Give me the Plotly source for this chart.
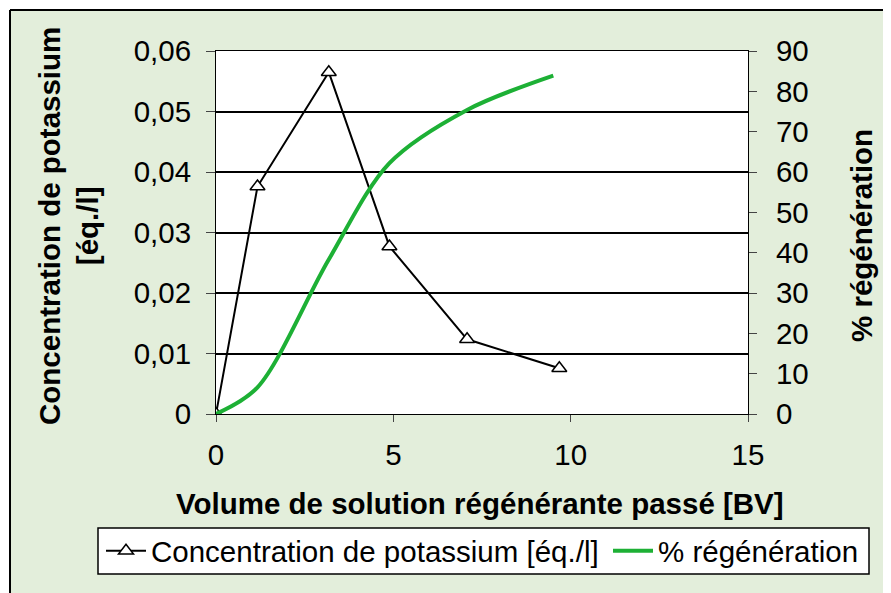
import plotly.graph_objects as go

# Data
vol_conc = [0, 1.17, 3.18, 4.89, 7.08, 9.68]
conc = [0.0, 0.0376, 0.0565, 0.0277, 0.01235, 0.00755]
vol_regen = [0, 1.17, 3.18, 4.89, 7.08, 9.51]
regen = [0, 6.6, 38.3, 62.2, 75.4, 83.9]

x_ticks = [0, 5, 10, 15]
y_ticks = [0, 0.01, 0.02, 0.03, 0.04, 0.05, 0.06]
y2_ticks = [0, 10, 20, 30, 40, 50, 60, 70, 80, 90]

FONT = "Liberation Sans, Arial, sans-serif"
BG = "#e3eedb"
FS = 29.5

OFF = 8  # page body margin
W, H = 891 - OFF, 593 - OFF
# plot area in page pixels (reference coordinates)
L, R, T, B = 216, 748, 51, 414

def px_x(p):
    return (p - L) / (R - L)

def px_y(p):
    return (B - p) / (B - T)

fig = go.Figure()
fig.add_trace(go.Scatter(
    x=vol_conc, y=conc, mode="lines+markers",
    name="Concentration de potassium [éq./l]",
    legend="legend",
    line=dict(color="black", width=2),
    marker=dict(symbol="triangle-up", size=13, color="white",
                line=dict(color="black", width=1.5)),
    yaxis="y"))
fig.add_trace(go.Scatter(
    x=vol_regen, y=regen, mode="lines",
    name="% régénération",
    legend="legend2",
    line=dict(color="#1db035", width=4, shape="spline", smoothing=0.9),
    yaxis="y2"))

tickfont = dict(family=FONT, size=FS, color="black")
legfont = dict(family=FONT, size=FS, color="black")
fig.update_layout(
    width=W, height=H,
    margin=dict(l=L - OFF, r=891 - R, t=T - OFF, b=593 - B, autoexpand=False),
    paper_bgcolor=BG, plot_bgcolor="white",
    separators=", ",
    showlegend=True,
    font=dict(family=FONT, color="black"),
    xaxis=dict(range=[0, 15], tickvals=x_ticks, ticks="outside", ticklen=7,
               tickcolor="#444", showline=True, linecolor="black", linewidth=1,
               mirror=True, showgrid=False, zeroline=False, tickfont=tickfont,
               ticklabelstandoff=8),
    yaxis=dict(range=[0, 0.06], tickvals=y_ticks, ticks="outside", ticklen=9,
               tickcolor="#444", showline=True, linecolor="black", linewidth=1,
               mirror=True, showgrid=True, gridcolor="black", gridwidth=1.5,
               zeroline=False, tickfont=tickfont, ticklabelstandoff=9),
    yaxis2=dict(range=[0, 90], tickvals=y2_ticks, ticks="outside", ticklen=8,
                tickcolor="#444", overlaying="y", side="right", showline=True,
                linecolor="black", linewidth=1, showgrid=False, zeroline=False,
                tickfont=tickfont, ticklabelstandoff=13),
    legend=dict(orientation="h", x=px_x(101), xanchor="left", y=px_y(551),
                yanchor="middle", bgcolor="rgba(0,0,0,0)", borderwidth=0,
                itemwidth=40, font=legfont),
    legend2=dict(orientation="h", x=px_x(608), xanchor="left", y=px_y(551),
                 yanchor="middle", bgcolor="rgba(0,0,0,0)", borderwidth=0,
                 itemwidth=40, font=legfont),
)

# outer frame (white outside, black border line)
fig.add_shape(type="rect", xref="paper", yref="paper", layer="below",
              x0=-1, x1=px_x(9.5), y0=-2, y1=2, fillcolor="white", line_width=0)
fig.add_shape(type="rect", xref="paper", yref="paper", layer="below",
              x0=-1, x1=2, y0=px_y(9.5), y1=2, fillcolor="white", line_width=0)
fig.add_shape(type="line", xref="paper", yref="paper", layer="below",
              x0=px_x(10), x1=px_x(10), y0=-2, y1=px_y(10),
              line=dict(color="black", width=2))
fig.add_shape(type="line", xref="paper", yref="paper", layer="below",
              x0=px_x(10), x1=2, y0=px_y(10), y1=px_y(10),
              line=dict(color="black", width=2))
# legend box
fig.add_shape(type="rect", xref="paper", yref="paper", layer="below",
              x0=px_x(98), x1=px_x(869), y0=px_y(574), y1=px_y(528),
              fillcolor="white", line=dict(color="black", width=1.5))

titlefont = dict(family=FONT, size=FS, color="black")
fig.add_annotation(text="<b>Concentration de potassium</b><br><b>[éq./l]</b>",
                   xref="paper", yref="paper", x=px_x(68), y=px_y(226),
                   xanchor="center", yanchor="middle", textangle=-90,
                   showarrow=False, font=titlefont)
fig.add_annotation(text="<b>% régénération</b>",
                   xref="paper", yref="paper", x=px_x(862), y=px_y(236),
                   xanchor="center", yanchor="middle", textangle=-90,
                   showarrow=False, font=titlefont)
fig.add_annotation(text="<b>Volume de solution régénérante passé [BV]</b>",
                   xref="paper", yref="paper", x=px_x(480), y=px_y(503),
                   xanchor="center", yanchor="middle",
                   showarrow=False, font=titlefont)

fig.write_html("out.html")
